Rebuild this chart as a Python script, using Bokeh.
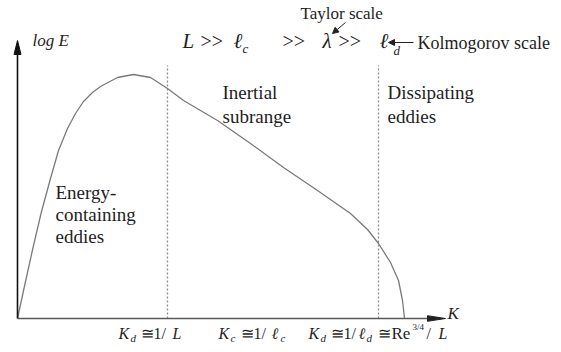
from bokeh.plotting import figure
from bokeh.models import Range1d, Arrow, NormalHead
from bokeh.core.properties import value
from bokeh.embed import file_html
from bokeh.resources import INLINE

# ---- data (schematic turbulent energy spectrum, arbitrary units from the origin) ----
k_curve = [0, 8, 16, 24, 33, 41, 50, 58, 66, 75, 83, 100, 116, 133, 150, 166, 183, 200,
           233, 266, 300, 333, 350, 361, 373, 381, 385, 387]
logE_curve = [0, 37, 73, 107, 140, 168, 190, 205, 217, 226, 232, 241, 244, 241, 230, 218, 208, 198,
              175, 151, 128, 105, 89, 75, 56, 38, 18, 0]
k_marks = [150, 361]          # K ~ 1/L  and  K ~ 1/l_d
mark_top = 253
k_axis_end = 428
logE_axis_end = 278

region_labels = ["Energy-", "containing", "eddies", "Inertial", "subrange", "Dissipating", "eddies"]

# ---- figure (page has no margin: figure fills the window) ----
W, H = 561, 352
X0, Y0 = 17, 318
p = figure(width=W, height=H, output_backend="svg", toolbar_location=None,
           x_range=Range1d(-X0, W - X0), y_range=Range1d(Y0 - H, Y0),
           min_border=0)
p.axis.visible = False
p.grid.visible = False
p.outline_line_color = None
p.background_fill_color = "white"
p.border_fill_color = "white"

FONT = value("Liberation Serif")
TC = "#1e1e1e"


def txt(x, y, s, size, style="normal", align="left", color=TC):
    p.text(x=[x], y=[y], text=[s], text_font=FONT, text_font_size=size,
           text_font_style=style, text_align=align, text_baseline="middle",
           text_color=color)


# dashed region boundaries
p.segment(x0=k_marks, y0=[0] * len(k_marks), x1=k_marks, y1=[mark_top] * len(k_marks),
          line_color="#8c8c8c", line_width=1.3, line_dash="2 2")

# spectrum curve
p.line(k_curve, logE_curve, line_color="#7a7a7a", line_width=1.3)

# axes
yh, xh = 14, 18
p.segment(x0=[0], y0=[0], x1=[0], y1=[logE_axis_end - yh], line_color="#111111", line_width=1.6)
p.segment(x0=[0], y0=[0], x1=[k_axis_end - xh], y1=[0], line_color="#5a5a5a", line_width=1.6)
p.patch([-3.5, 3.5, 0], [logE_axis_end - yh, logE_axis_end - yh, logE_axis_end],
        fill_color="#111111", line_color="#111111")
p.patch([k_axis_end - xh, k_axis_end - xh, k_axis_end], [-2.8, 2.8, 0],
        fill_color="#222222", line_color="#222222")

# axis titles
txt(15, 278, "log E", "17px", "italic")
txt(430, 5, "K", "17px", "italic")

# region labels
txt(38, 126, region_labels[0], "19px")
txt(38, 104, region_labels[1], "19px")
txt(38, 82, region_labels[2], "19px")
txt(205, 226, region_labels[3], "19px")
txt(205, 202, region_labels[4], "19px")
txt(370, 226, region_labels[5], "19px")
txt(370, 202, region_labels[6], "19px")

# scale hierarchy
fy = 278
txt(165, fy, "L", "21px", "italic")
txt(183, fy, ">>", "20px")
txt(216, fy, "ℓ", "21px", "italic")
txt(225, fy - 8, "c", "13px", "italic")
txt(265, fy, ">>", "20px")
txt(305, fy, "λ", "21px", "italic")
txt(321, fy, ">>", "20px")
txt(362, fy, "ℓ", "21px", "italic")
txt(376, fy - 10, "d", "13px", "italic")

txt(283, 305, "Taylor scale", "17px")
txt(400, 276, "Kolmogorov scale", "18px")
p.add_layout(Arrow(end=NormalHead(size=6, fill_color="#222222", line_color="#222222"),
                   x_start=328, y_start=296, x_end=315, y_end=285,
                   line_color="#222222", line_width=1))
p.add_layout(Arrow(end=NormalHead(size=6, fill_color="#222222", line_color="#222222"),
                   x_start=396, y_start=276, x_end=371, y_end=276,
                   line_color="#222222", line_width=1))

# wavenumber labels under the axis
by, sy = -15, -19
b1 = 101
txt(b1, by, "K", "16px", "italic")
txt(b1 + 12, sy, "d", "11px", "italic")
txt(b1 + 22, by, "≅1", "16px")
txt(b1 + 43, by, "/", "16px")
txt(b1 + 54, by, "L", "16px", "italic")

b2 = 201
txt(b2, by, "K", "16px", "italic")
txt(b2 + 12, sy, "c", "11px", "italic")
txt(b2 + 22, by, "≅1", "16px")
txt(b2 + 43, by, "/", "16px")
txt(b2 + 53, by, "ℓ", "16px", "italic")
txt(b2 + 62, sy, "c", "11px", "italic")

b3 = 291
txt(b3, by, "K", "16px", "italic")
txt(b3 + 12, sy, "d", "11px", "italic")
txt(b3 + 22, by, "≅1", "16px")
txt(b3 + 43, by, "/", "16px")
txt(b3 + 50, by, "ℓ", "16px", "italic")
txt(b3 + 58, sy, "d", "11px", "italic")
txt(b3 + 69, by, "≅", "16px")
txt(b3 + 83, by, "Re", "17px")
txt(b3 + 104, by + 7, "3/4", "9px")
txt(b3 + 118, by, "/", "16px")
txt(b3 + 130, by, "L", "16px", "italic")

open("out.html", "w").write(file_html(p, INLINE))
